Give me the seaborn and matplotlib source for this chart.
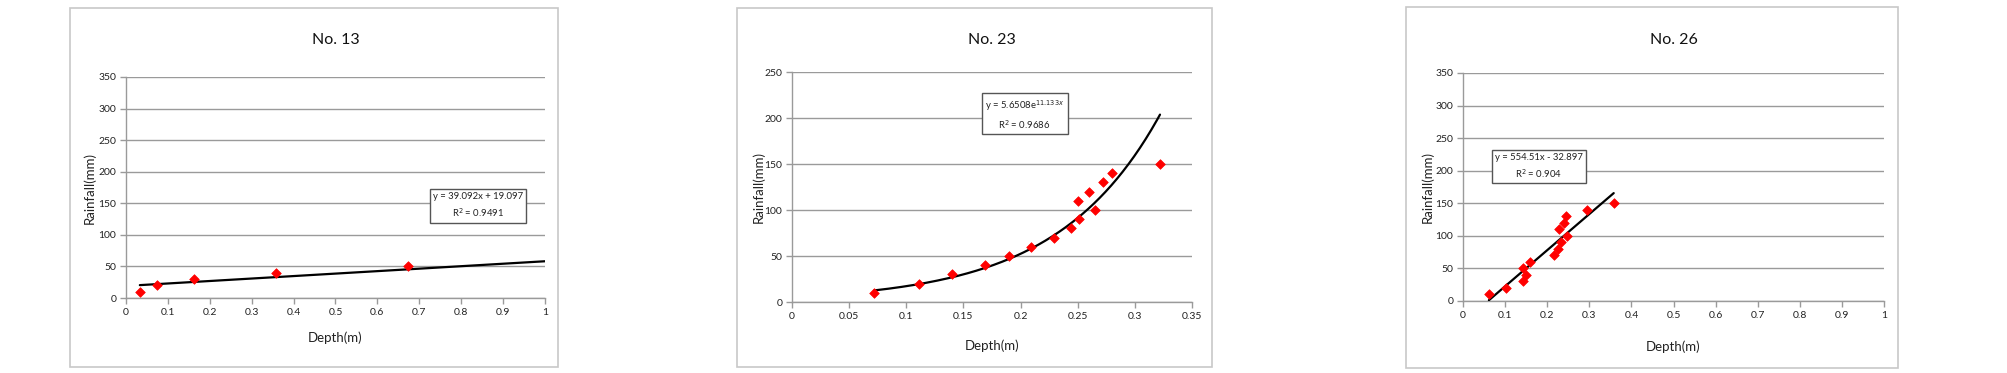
import numpy as np
import pandas as pd
import matplotlib
matplotlib.use("Agg")
import matplotlib.pyplot as plt
import seaborn as sns
from matplotlib.patches import Rectangle
from matplotlib.ticker import FuncFormatter

# ---- data ----
depth_13 = [0.033, 0.075, 0.162, 0.357, 0.672]
rain_13 = [10, 20, 30, 40, 50]
fit_13 = (39.092, 19.097)          # y = a*x + b

depth_23 = [0.072, 0.111, 0.140, 0.169, 0.190, 0.209, 0.229, 0.244, 0.251,
            0.250, 0.260, 0.265, 0.272, 0.280, 0.322]
rain_23 = [10, 20, 30, 40, 50, 60, 70, 80, 90, 110, 120, 100, 130, 140, 150]
fit_23 = (5.6508, 11.133)          # y = a*exp(b*x)

depth_26 = [0.061, 0.103, 0.142, 0.143, 0.149, 0.158, 0.215, 0.225, 0.233,
            0.229, 0.239, 0.245, 0.248, 0.294, 0.358]
rain_26 = [10, 20, 30, 50, 40, 60, 70, 80, 90, 110, 120, 130, 100, 140, 150]
fit_26 = (554.51, -32.897)         # y = a*x + b

sns.set_style("white")
plt.rcParams['font.family'] = ['Lato', 'DejaVu Sans']

W, H = 2008, 373
fig = plt.figure(figsize=(W / 100, H / 100), dpi=100)


def px_box(x0, y0, x1, y1):
    # pixel box (top-left origin) -> figure fraction rect
    return [x0 / W, (H - y1) / H, (x1 - x0) / W, (y1 - y0) / H]


def draw_panel(frame, plot, title, xs, ys, fit, kind, xlim, xstep, ylim,
               ystep, eq, r2, eq_pos, xlab_off, ylab_off):
    fx = px_box(*frame)
    fig.patches.append(Rectangle((fx[0], fx[1]), fx[2], fx[3], transform=fig.transFigure,
                                 fill=False, edgecolor='#c8c8c8', linewidth=1.2))
    ax = fig.add_axes(px_box(*plot))

    # trendline from the equation shown on the chart
    xt = np.linspace(fit[2], fit[3], 200)
    if kind == 'exp':
        yt = fit[0] * np.exp(fit[1] * xt)
    else:
        yt = fit[0] * xt + fit[1]
    sns.lineplot(x=xt, y=yt, ax=ax, color='black', linewidth=1.6, zorder=3)

    df = pd.DataFrame({'depth': xs, 'rain': ys})
    sns.scatterplot(data=df, x='depth', y='rain', ax=ax, marker='D', s=24,
                    color='#ff0000', edgecolor='#ff0000', linewidth=0.5, zorder=4)

    ax.set_xlim(*xlim)
    ax.set_ylim(*ylim)
    ax.set_xticks(np.arange(xlim[0], xlim[1] + xstep / 2, xstep))
    ax.set_yticks(np.arange(ylim[0], ylim[1] + ystep / 2, ystep))
    ax.xaxis.set_major_formatter(FuncFormatter(lambda v, p: f"{v:g}"))
    ax.yaxis.grid(True, color='#9a9a9a', linewidth=1.0)
    ax.set_axisbelow(True)
    for s in ['top', 'right']:
        ax.spines[s].set_visible(False)
    for s in ['left', 'bottom']:
        ax.spines[s].set_color('#9a9a9a')
        ax.spines[s].set_linewidth(1.0)
    ax.tick_params(axis='both', direction='out', length=4, width=1, color='#9a9a9a',
                   labelsize=7.5, labelcolor='#222222', pad=3)
    ax.tick_params(axis='x', bottom=True)
    ax.tick_params(axis='y', left=True)

    ax.set_xlabel('Depth(m)', fontsize=9.5, color='#222222')
    ax.set_ylabel('Rainfall(mm)', fontsize=9.5, color='#222222')
    ph = plot[3] - plot[1]
    pw = plot[2] - plot[0]
    ax.xaxis.set_label_coords(0.5, -xlab_off / ph)
    ax.xaxis.label.set_va('center')
    ax.yaxis.set_label_coords(-ylab_off / pw, 0.5)
    ax.yaxis.label.set_va('center')

    ax.text(0.5, 1 + (plot[1] - 40) / ph, title, transform=ax.transAxes,
            ha='center', va='center', fontsize=11.5, color='#111111')

    ax.text(eq_pos[0], eq_pos[1], eq + "\n" + r2, transform=ax.transData,
            ha='center', va='center', fontsize=6.8, color='#222222', linespacing=1.5,
            bbox=dict(boxstyle='square,pad=0.35', facecolor='white', edgecolor='#555555',
                      linewidth=1.0), zorder=5)
    return ax


draw_panel((70, 8, 558, 367), (126, 77, 545, 298), 'No. 13', depth_13, rain_13,
           (fit_13[0], fit_13[1], 0.033, 1.0), 'lin', (0, 1), 0.1, (0, 350), 50,
           'y = 39.092x + 19.097', r'R$^2$ = 0.9491', (0.84, 146), 40, 37)

draw_panel((737, 8, 1212, 367), (792, 72, 1192, 302), 'No. 23', depth_23, rain_23,
           (fit_23[0], fit_23[1], 0.072, 0.322), 'exp', (0, 0.35), 0.05, (0, 250), 50,
           r'y = 5.6508e$^{11.133x}$', r'R$^2$ = 0.9686', (0.2035, 204), 44, 34)

draw_panel((1406, 7, 1898, 368), (1463, 73, 1884, 301), 'No. 26', depth_26, rain_26,
           (fit_26[0], fit_26[1], 0.0615, 0.358), 'lin', (0, 1), 0.1, (0, 350), 50,
           'y = 554.51x - 32.897', r'R$^2$ = 0.904', (0.18, 207), 46, 36)

fig.savefig('out.png', dpi=100)
